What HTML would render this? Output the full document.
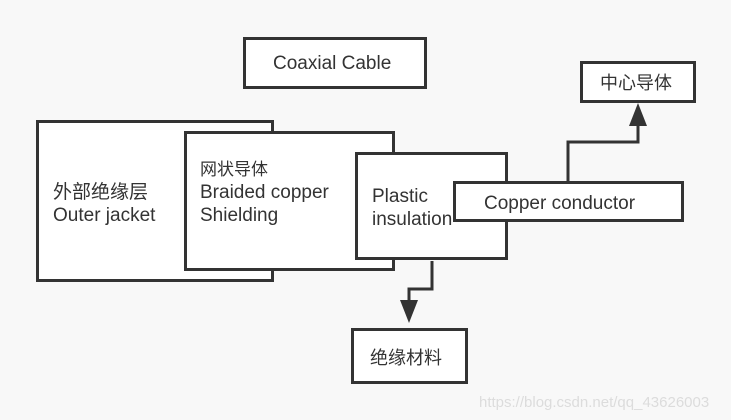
<!DOCTYPE html>
<html><head><meta charset="utf-8"><style>
body{margin:0;width:731px;height:420px;background:#f8f8f8;overflow:hidden;position:relative;font-family:"Liberation Sans","Noto Sans CJK SC",sans-serif;color:#333}
.b{position:absolute;box-sizing:border-box;border:3px solid #333;background:#fff}
.t{position:absolute;font-size:19px;line-height:23px;white-space:nowrap}
</style></head><body>
<div class="b" style="left:243px;top:37px;width:184px;height:52px"></div>
<div class="t" style="left:273px;top:52px">Coaxial Cable</div>
<div class="b" style="left:36px;top:120px;width:238px;height:162px"></div>
<div class="t" style="left:53px;top:181px">外部绝缘层<br>Outer jacket</div>
<div class="b" style="left:184px;top:131px;width:211px;height:140px"></div>
<div class="t" style="left:200px;top:158px;font-size:17px;line-height:23px">网状导体</div>
<div class="t" style="left:200px;top:181px">Braided copper<br>Shielding</div>
<div class="b" style="left:355px;top:152px;width:153px;height:108px"></div>
<div class="t" style="left:372px;top:185px">Plastic<br>insulation</div>
<div class="b" style="left:453px;top:181px;width:231px;height:41px;background:#fff"></div>
<div class="t" style="left:484px;top:192px">Copper conductor</div>
<div class="b" style="left:580px;top:61px;width:116px;height:42px"></div>
<div class="t" style="left:600px;top:72px;font-size:18px">中心导体</div>
<div class="b" style="left:351px;top:328px;width:117px;height:56px"></div>
<div class="t" style="left:370px;top:347px;font-size:18px">绝缘材料</div>
<svg style="position:absolute;left:0;top:0" width="731" height="420">
<polyline points="568,181 568,142 638,142 638,124" fill="none" stroke="#333" stroke-width="3"/>
<polygon points="629,126 647,126 638,103" fill="#333"/>
<polyline points="432,261 432,289 409,289 409,302" fill="none" stroke="#333" stroke-width="3"/>
<polygon points="400,300 418,300 409,323" fill="#333"/>
</svg>
<div class="t" style="left:479px;top:391px;font-size:15px;color:#dcdcdc">https://blog.csdn.net/qq_43626003</div>
</body></html>
